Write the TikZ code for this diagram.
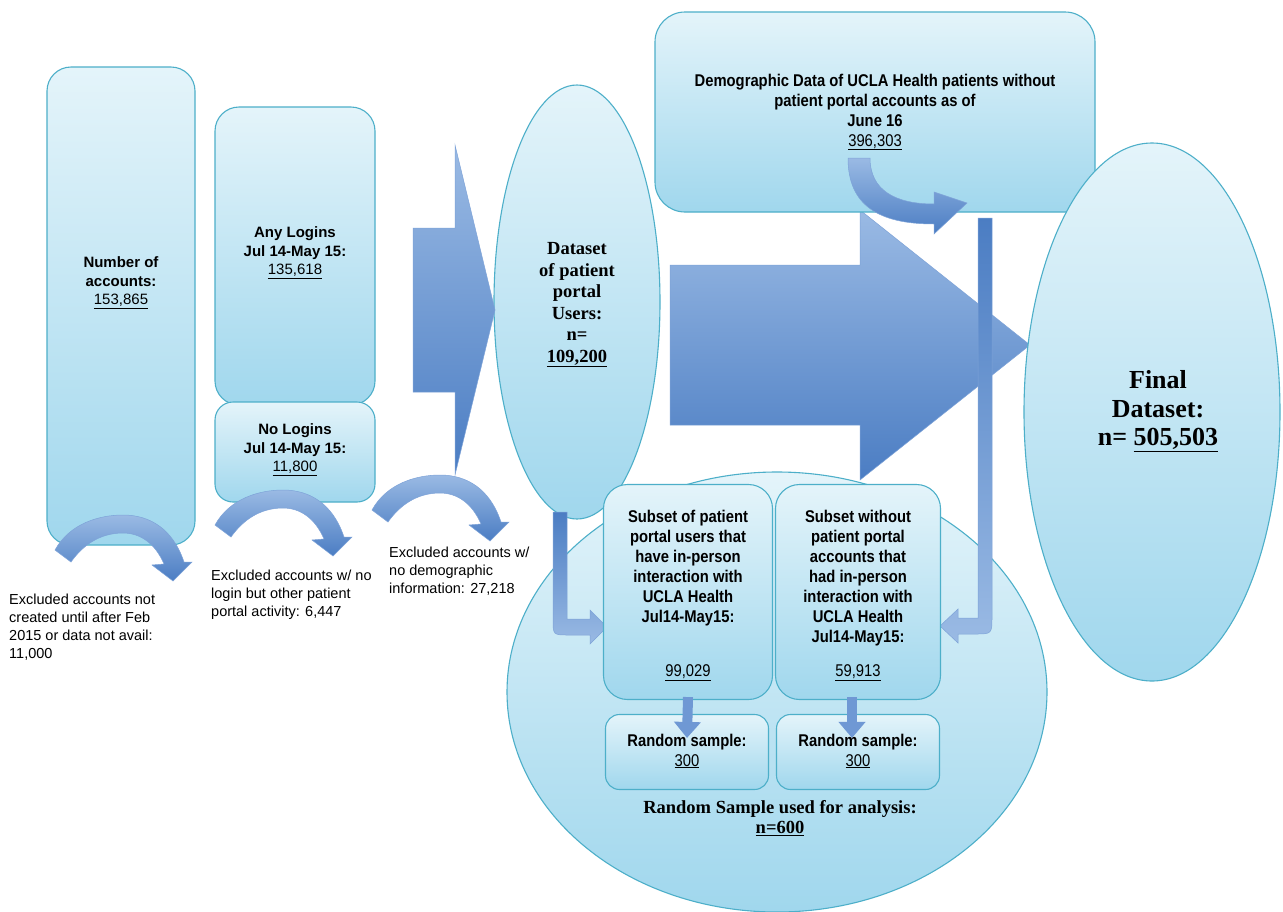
\documentclass[tikz,border=0pt]{standalone}
\usepackage{fontspec}
\setmainfont{Liberation Sans}
\newfontfamily\narrowfont[FakeStretch=0.87]{Liberation Sans}
\newfontfamily\seriffont{Liberation Serif}
\usetikzlibrary{shapes.geometric,arrows.meta,calc}
\definecolor{boxtop}{HTML}{E4F4FA}
\definecolor{boxbot}{HTML}{A0D7ED}
\definecolor{boxline}{HTML}{4DAFC9}
\definecolor{arrtop}{HTML}{9ABAE4}
\definecolor{arrbot}{HTML}{4B7DC3}
\definecolor{arrline}{HTML}{7EA3D8}
\definecolor{arrmid}{HTML}{6F98D4}
\tikzset{
  rbox/.style={draw=boxline, line width=1.1pt, rounded corners=24pt, top color=boxtop, bottom color=boxbot, inner sep=0pt},
  ellbox/.style={ellipse, draw=boxline, line width=1.1pt, top color=boxtop, bottom color=boxbot, inner sep=0pt},
  blockarr/.style={top color=arrtop, bottom color=arrbot, draw=arrline, line width=0.5pt},
  bentarr/.style={top color=arrbot, bottom color=arrtop, draw=arrline, line width=0.5pt},
  txt/.style={align=center, inner sep=0pt, font=\bfseries\fontsize{15}{18.5}\selectfont},
  ntxt/.style={align=center, inner sep=0pt, font=\narrowfont\bfseries\fontsize{17}{20}\selectfont},
  stxt/.style={align=center, inner sep=0pt, font=\seriffont\bfseries\fontsize{18.5}{21.5}\selectfont},
  note/.style={align=left, anchor=north west, inner sep=0pt, font=\fontsize{14.5}{18}\selectfont},
  smallarr/.style={line width=10pt, draw=arrmid, -{Triangle[width=26pt,length=16pt]}},
  curvdown/.pic={
    \path[blockarr]
      (0,35) .. controls (15,8) and (45,0) .. (68,0)
      .. controls (95,0) and (118,14) .. (129,47)
      -- (137,47) -- (118,66) -- (97,50) -- (109,49)
      .. controls (100,28) and (85,18) .. (68,18)
      .. controls (45,18) and (28,30) .. (16,47) -- cycle;
  }
}
\begin{document}
\begin{tikzpicture}[x=1pt, y=-1pt]
\useasboundingbox (0,0) rectangle (1283,911);
\fill[white] (0,0) rectangle (1283,911);

% bottom ellipse
\node[ellbox, minimum width=540pt, minimum height=440pt] (bell) at (777,692) {};

% big arrow 2
\path[blockarr] (670,265) -- (860,265) -- (860,210) -- (1030,345) -- (860,480) -- (860,425) -- (670,425) -- cycle;

% top box
\node[rbox, rounded corners=30pt, minimum width=440pt, minimum height=200pt] (demo) at (875,112) {};
\node[ntxt] (demotxt) at (875,112) {Demographic Data of UCLA Health patients without\\patient portal accounts as of\\June 16\\{\mdseries\underline{396,303}}};
\path[blockarr] (848,158) .. controls (848,205) and (878,224) .. (934,224) -- (934,234) -- (967,203) -- (934,192) -- (934,204) .. controls (895,204) and (870,190) .. (870,158) -- cycle;

% final ellipse
\node[ellbox, minimum width=256pt, minimum height=538pt] (fin) at (1152,412) {};
\node[stxt, font=\seriffont\bfseries\fontsize{26}{28.5}\selectfont] (fintxt) at (1158,411) {Final\\Dataset:\\n= \underline{505,503}};

% right bent arrow
\path[bentarr] (978,218) -- (992,218) -- (992,616) .. controls (992,634) and (992,634) .. (975,634) -- (958,634) -- (958,643) -- (940,626) -- (958,609) -- (958,618) -- (978,618) -- cycle;

% dataset ellipse
\node[ellbox, minimum width=166pt, minimum height=434pt] (ds) at (577,302) {};
\node[stxt] (dstxt) at (577,305) {Dataset\\of patient\\portal\\Users:\\n=\\\underline{109,200}};
\path[bentarr] (553,512) -- (567,512) -- (567,619) -- (590,619) -- (590,610) -- (607,627) -- (590,644) -- (590,635) -- (569,635) .. controls (553,635) and (553,635) .. (553,619) -- cycle;

% subset boxes
\node[rbox, minimum width=169pt, minimum height=215pt] (sub1) at (688,592) {};
\node[rbox, minimum width=165pt, minimum height=215pt] (sub2) at (858,592) {};
\node[ntxt, anchor=north] (sub1txt) at (688,510) {Subset of patient\\portal users that\\have in-person\\interaction with\\UCLA Health\\Jul14-May15:\\[34pt]{\mdseries\underline{99,029}}};
\node[ntxt, anchor=north] (sub2txt) at (858,510) {Subset without\\patient portal\\accounts that\\had in-person\\interaction with\\UCLA Health\\Jul14-May15:\\[14pt]{\mdseries\underline{59,913}}};

\node[rbox, rounded corners=14pt, minimum width=163pt, minimum height=75pt] (rs1) at (687,752) {};
\node[rbox, rounded corners=14pt, minimum width=163pt, minimum height=75pt] (rs2) at (858,752) {};
\draw[smallarr] ($(sub1.south)+(0,-3)$) -- ($(rs1.north)+(0,24)$);
\draw[smallarr] ($(sub2.south)+(-6,-3)$) -- ($(rs2.north)+(-6,24)$);
\node[ntxt] (rs1txt) at (687,751) {Random sample:\\{\mdseries\underline{300}}};
\node[ntxt] (rs2txt) at (858,751) {Random sample:\\{\mdseries\underline{300}}};
\node[stxt, font=\seriffont\bfseries\fontsize{18.5}{19.5}\selectfont] (rstxt) at (780,818) {Random Sample used for analysis:\\\underline{n=600}};

% left boxes
\node[rbox, minimum width=148pt, minimum height=478pt] (acc) at (121,306) {};
\node[txt] (acctxt) at (121,283) {Number of\\accounts:\\{\mdseries\underline{153,865}}};
\node[rbox, minimum width=160pt, minimum height=298pt] (anyl) at (295,256) {};
\node[txt] (anyltxt) at (295,253) {Any Logins\\Jul 14-May 15:\\{\mdseries\underline{135,618}}};
\node[rbox, rounded corners=18pt, minimum width=160pt, minimum height=100pt] (nol) at (295,452) {};
\node[txt] (noltxt) at (295,450) {No Logins\\Jul 14-May 15:\\{\mdseries\underline{11,800}}};

% block arrow 1
\path[blockarr] (413,228) -- (455,228) -- (455,145) -- (495,310) -- (455,475) -- (455,392) -- (413,392) -- cycle;

% curved arrows
\pic at (55,515) {curvdown};
\pic at (215,490) {curvdown};
\pic at (372,475) {curvdown};

% notes
\node[note] (n1) at (9,594) {Excluded accounts not\\created until after Feb\\2015 or data not avail:\\11,000};
\node[note] (n2) at (211,570) {Excluded accounts w/ no\\login but other patient\\portal activity: 6,447};
\node[note] (n3) at (389,547) {Excluded accounts w/\\no demographic\\information: 27,218};
\end{tikzpicture}
\end{document}
